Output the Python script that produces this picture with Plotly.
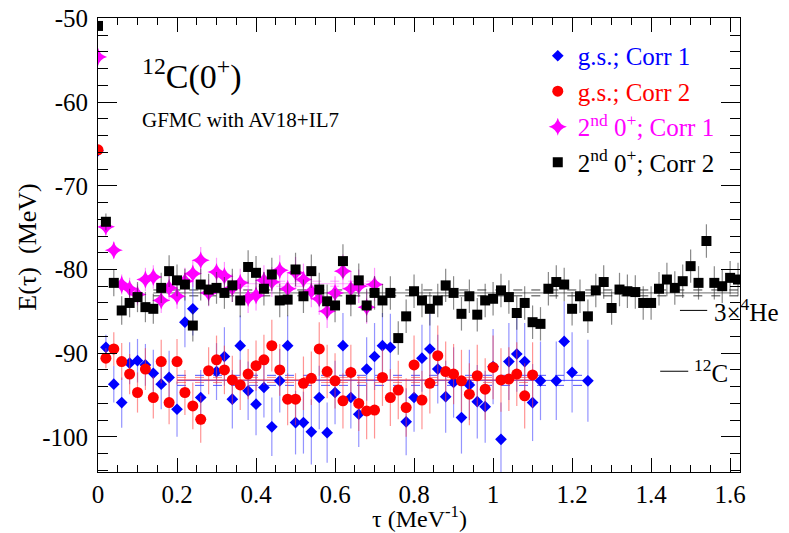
import plotly.graph_objects as go

# ---------------- data ----------------
tau_blue = [0.00, 0.02, 0.04, 0.06, 0.08, 0.10, 0.12, 0.14, 0.16, 0.18, 0.20, 0.22, 0.24, 0.26,
            0.30, 0.32, 0.34, 0.36, 0.38, 0.40, 0.42, 0.44, 0.46, 0.48, 0.50, 0.52, 0.54, 0.56,
            0.58, 0.60, 0.62, 0.64, 0.66, 0.68, 0.70, 0.72, 0.74, 0.78, 0.80, 0.82, 0.84, 0.86,
            0.88, 0.90, 0.92, 0.94, 0.96, 0.98, 1.00, 1.02, 1.04, 1.06, 1.08, 1.10, 1.12, 1.16,
            1.18, 1.20, 1.24]
E_blue = [-65.8, -89.3, -93.7, -95.9, -91.2, -90.9, -91.4, -92.4, -93.7, -92.9, -96.7, -86.3, -84.7, -95.3,
          -92.2, -90.4, -95.5, -89.1, -94.5, -96.1, -94.1, -98.8, -93.3, -89.1, -98.3, -98.3, -99.4, -95.3,
          -99.5, -94.7, -89.1, -95.3, -97.3, -91.9, -90.4, -89.1, -89.3, -98.2, -95.3, -90.6, -89.5, -91.9,
          -95.2, -93.5, -97.7, -93.8, -95.8, -96.4, -91.6, -100.3, -91.0, -90.1, -91.0, -95.9, -93.3, -93.3,
          -88.6, -92.3, -93.3]
err_blue = [0.3, 1.5, 2.2, 3.0, 2.5, 2.6, 2.5, 2.8, 3.0, 3.2, 3.3, 3.0, 3.2, 3.3,
            3.4, 3.5, 3.5, 3.6, 3.5, 3.7, 3.6, 3.5, 3.8, 3.6, 3.8, 3.7, 3.9, 3.8,
            3.6, 3.8, 3.9, 3.7, 3.9, 3.8, 4.0, 3.9, 4.0, 4.0, 4.1, 4.0, 4.2, 4.1,
            4.3, 4.2, 4.3, 4.2, 4.4, 4.3, 4.5, 4.4, 4.6, 4.5, 4.6, 4.6, 4.7, 4.7,
            4.8, 4.8, 4.9]

tau_red = [0.00, 0.02, 0.04, 0.06, 0.08, 0.10, 0.12, 0.14, 0.16, 0.18, 0.20, 0.22, 0.24, 0.26, 0.28,
           0.30, 0.32, 0.34, 0.36, 0.38, 0.40, 0.42, 0.44, 0.46, 0.48, 0.50, 0.52, 0.54, 0.56, 0.58,
           0.60, 0.62, 0.64, 0.66, 0.68, 0.70, 0.72, 0.74, 0.76, 0.78, 0.80, 0.82, 0.84, 0.86, 0.88,
           0.90, 0.92, 0.94, 0.96, 0.98, 1.00, 1.02, 1.04, 1.06, 1.08, 1.10]
E_red = [-65.7, -90.6, -89.5, -91.0, -92.5, -94.7, -91.9, -95.3, -91.0, -95.9, -91.0, -94.7, -96.3, -97.9, -92.1,
         -90.8, -92.0, -93.2, -93.8, -92.5, -91.5, -90.8, -89.1, -92.0, -95.5, -95.5, -93.6, -93.0, -89.5, -92.2,
         -93.3, -95.7, -92.3, -96.0, -96.9, -96.8, -92.9, -95.3, -94.4, -96.5, -91.4, -95.6, -93.6, -90.3, -92.2,
         -92.5, -93.3, -94.9, -92.7, -94.3, -91.7, -93.2, -93.1, -92.5, -95.1, -92.6]
err_red = [0.3, 1.2, 2.0, 2.2, 2.4, 2.4, 2.5, 2.5, 2.6, 2.6, 2.7, 2.7, 2.8, 2.8, 2.8,
           2.9, 2.9, 2.9, 3.0, 3.0, 3.0, 3.0, 3.1, 3.1, 3.1, 3.1, 3.2, 3.2, 3.2, 3.2,
           3.3, 3.3, 3.3, 3.3, 3.4, 3.4, 3.4, 3.4, 3.5, 3.5, 3.5, 3.5, 3.6, 3.6, 3.6,
           3.6, 3.7, 3.7, 3.7, 3.7, 3.8, 3.8, 3.8, 3.8, 3.9, 3.9]

tau_mag = [0.00, 0.02, 0.04, 0.06, 0.08, 0.10, 0.12, 0.14, 0.16, 0.18, 0.20, 0.22, 0.24, 0.26, 0.28,
           0.30, 0.32, 0.34, 0.36, 0.38, 0.40, 0.42, 0.44, 0.46, 0.48, 0.50, 0.52, 0.54, 0.56, 0.58,
           0.60, 0.62, 0.64, 0.66, 0.68, 0.70]
E_mag = [-54.6, -74.9, -77.7, -81.8, -82.3, -83.0, -81.2, -80.9, -83.7, -82.2, -83.2, -81.4, -80.5, -78.9, -82.8,
         -80.3, -80.8, -82.2, -81.6, -83.4, -83.1, -81.3, -81.5, -80.1, -82.3, -80.4, -81.2, -82.6, -83.5, -85.0,
         -82.8, -80.2, -82.3, -82.0, -84.5, -81.8]
err_mag = [0.3, 1.0, 1.0, 1.2, 1.3, 1.3, 1.4, 1.4, 1.5, 1.5, 1.5, 1.6, 1.6, 1.6, 1.6,
           1.7, 1.7, 1.7, 1.7, 1.8, 1.8, 1.8, 1.8, 1.8, 1.9, 1.9, 1.9, 1.9, 1.9, 2.0,
           2.0, 2.0, 2.0, 2.0, 2.0, 2.0]

tau_blk = [0.00, 0.02, 0.04, 0.06, 0.08, 0.10, 0.12, 0.14, 0.16, 0.18, 0.20, 0.22, 0.24, 0.26, 0.28,
           0.30, 0.32, 0.34, 0.36, 0.38, 0.40, 0.42, 0.44, 0.46, 0.48, 0.50, 0.52, 0.54, 0.56, 0.58,
           0.60, 0.62, 0.64, 0.66, 0.68, 0.70, 0.72, 0.74, 0.76, 0.78, 0.80, 0.82, 0.84, 0.86, 0.88,
           0.90, 0.92, 0.94, 0.96, 0.98, 1.00, 1.02, 1.04, 1.06, 1.08, 1.10, 1.12, 1.14, 1.16, 1.18,
           1.20, 1.22, 1.24, 1.26, 1.28, 1.30, 1.32, 1.34, 1.36, 1.38, 1.40, 1.42, 1.44, 1.46, 1.48,
           1.50, 1.52, 1.54, 1.56, 1.58, 1.60, 1.62]
E_blk = [-50.9, -74.3, -81.6, -84.9, -84.0, -83.3, -84.5, -84.7, -82.2, -80.2, -81.3, -81.8, -86.7, -81.8, -82.4,
         -82.2, -82.8, -81.9, -83.7, -79.7, -80.4, -82.3, -80.6, -83.7, -83.6, -80.0, -83.2, -80.2, -82.4, -83.8,
         -84.3, -79.0, -83.6, -81.3, -84.3, -82.8, -83.7, -82.8, -88.2, -85.6, -82.6, -83.7, -84.7, -83.7, -81.9,
         -82.8, -85.3, -83.2, -85.4, -83.7, -83.5, -82.5, -83.3, -85.2, -84.0, -86.3, -86.5, -82.3, -81.5, -81.8,
         -84.7, -83.2, -85.6, -82.5, -81.5, -84.6, -82.4, -82.6, -82.7, -84.0, -84.0, -82.3, -81.2, -82.2, -81.4,
         -79.6, -81.6, -76.6, -81.6, -82.0, -81.0, -81.2]
err_blk = [0.3, 1.0, 1.6, 1.7, 1.7, 1.8, 1.8, 1.8, 1.8, 1.9, 1.9, 1.9, 1.9, 1.9, 1.9,
           1.9, 1.9, 2.0, 2.0, 2.0, 2.0, 2.0, 2.0, 2.0, 2.0, 2.0, 2.0, 2.0, 2.0, 2.0,
           2.0, 2.0, 2.0, 2.0, 2.0, 2.0, 2.0, 2.0, 2.0, 2.0, 2.0, 2.0, 2.0, 2.0, 2.0,
           2.0, 2.0, 2.0, 2.0, 2.0, 2.0, 2.0, 2.0, 2.0, 2.0, 2.0, 2.0, 2.0, 2.0, 2.0,
           2.0, 2.0, 2.0, 2.0, 2.0, 2.0, 2.0, 2.0, 2.0, 2.0, 2.0, 2.0, 2.0, 2.0, 2.0,
           2.0, 2.0, 2.0, 2.0, 2.0, 2.0, 2.0]

# averaged energies (bands): start, end, centre, half-width
band_start = [0.20, 0.20, 0.36, 0.14]
band_end = [1.24, 1.10, 0.70, 1.62]
band_centre = [-93.25, -93.2, -81.7, -82.8]
band_half = [0.6, 0.3, 0.3, 0.35]

# experimental reference energies
E_3He4 = -84.89
E_12C = -92.16

x_tickvals = [0, 0.2, 0.4, 0.6, 0.8, 1.0, 1.2, 1.4, 1.6]
x_ticktext = ["0", "0.2", "0.4", "0.6", "0.8", "1", "1.2", "1.4", "1.6"]
y_tickvals = [-50, -60, -70, -80, -90, -100]
y_ticktext = ["-50", "-60", "-70", "-80", "-90", "-100"]

names = ["g.s.; Corr 1", "g.s.; Corr 2", "2<sup>nd</sup> 0<sup>+</sup>; Corr 1", "2<sup>nd</sup> 0<sup>+</sup>; Corr 2"]
colors = ["#0000ff", "#ff0000", "#ff00ff", "#000000"]
bar_colors = ["rgba(60,60,255,0.55)", "rgba(255,60,60,0.55)", "rgba(255,60,255,0.55)", "rgba(40,40,40,0.55)"]
band_solid = ["rgba(40,40,255,0.8)", "rgba(255,40,40,0.8)", "rgba(255,120,255,0.6)", "rgba(90,90,90,0.9)"]
band_dash = ["rgba(40,40,255,0.8)", "rgba(255,60,60,0.6)", "rgba(255,120,255,0.7)", "rgba(40,40,40,0.9)"]
symbols = ["diamond", "circle", "star-diamond", "square"]
sizes = [9, 11, 13, 10]

FONT = "Liberation Serif, Times New Roman, serif"

fig = go.Figure()

for i in range(4):
    xs = [band_start[i], band_end[i]]
    c, h = band_centre[i], band_half[i]
    fig.add_trace(go.Scatter(x=xs, y=[c, c], mode="lines", showlegend=False, hoverinfo="skip",
                             line=dict(color=band_solid[i], width=1)))
    for s in (-1, 1):
        fig.add_trace(go.Scatter(x=xs, y=[c + s * h, c + s * h], mode="lines", showlegend=False,
                                 hoverinfo="skip", line=dict(color=band_dash[i], width=1, dash="dash")))

series = [(tau_blue, E_blue, err_blue), (tau_red, E_red, err_red),
          (tau_mag, E_mag, err_mag), (tau_blk, E_blk, err_blk)]
for i, (t, e, de) in enumerate(series):
    fig.add_trace(go.Scatter(
        x=t, y=e, mode="markers",
        name='<span style="color:%s">%s</span>' % (colors[i], names[i]),
        legendgroup="g%d" % i,
        marker=dict(symbol=symbols[i], size=sizes[i], color=colors[i], line=dict(width=0)),
        error_y=dict(type="data", array=de, visible=True, width=0, thickness=1.2, color=bar_colors[i]),
    ))

fig.add_shape(type="line", xref="x", yref="y", x0=1.473, x1=1.542, y0=E_3He4, y1=E_3He4,
              line=dict(color="black", width=1))
fig.add_shape(type="line", xref="x", yref="y", x0=1.423, x1=1.494, y0=E_12C, y1=E_12C,
              line=dict(color="black", width=1))
fig.add_annotation(x=1.553, y=E_3He4, xref="x", yref="y", text="3×<sup>4</sup>He", showarrow=False,
                   xanchor="left", yanchor="middle", font=dict(family=FONT, size=25, color="black"))
fig.add_annotation(x=1.503, y=E_12C, xref="x", yref="y", text="<sup>12</sup>C", showarrow=False,
                   xanchor="left", yanchor="middle", font=dict(family=FONT, size=25, color="black"))

fig.add_annotation(x=0.065, y=0.875, xref="paper", yref="paper", text="<sup>12</sup>C(0<sup>+</sup>)",
                   showarrow=False, xanchor="left", yanchor="middle", font=dict(family=FONT, size=34, color="black"))
fig.add_annotation(x=0.065, y=0.776, xref="paper", yref="paper", text="GFMC with AV18+IL7",
                   showarrow=False, xanchor="left", yanchor="middle", font=dict(family=FONT, size=21, color="black"))

fig.add_annotation(x=-0.11, y=0.495, xref="paper", yref="paper", text="E(τ)  (MeV)", textangle=-90,
                   showarrow=False, xanchor="center", yanchor="middle", font=dict(family=FONT, size=26, color="black"))
fig.add_annotation(x=0.5, y=-0.1, xref="paper", yref="paper", text="τ (MeV<sup>-1</sup>)",
                   showarrow=False, xanchor="center", yanchor="middle", font=dict(family=FONT, size=24, color="black"))

axis_common = dict(showgrid=False, zeroline=False, showline=True, linecolor="black", linewidth=1,
                   mirror="ticks", ticks="inside", tickcolor="black", automargin=False,
                   ticklabeloverflow="allow",
                   tickfont=dict(family=FONT, size=25, color="black"))

# the page body has an 8px default margin, so the figure is 8px smaller
fig.update_layout(
    width=781, height=525,
    margin=dict(l=90, r=49, t=10, b=61),
    paper_bgcolor="white", plot_bgcolor="white",
    showlegend=True,
    legend=dict(x=0.685, y=0.967, xanchor="left", yanchor="top", bgcolor="rgba(0,0,0,0)",
                font=dict(family=FONT, size=25, color="black"), tracegroupgap=0, itemwidth=30),
    xaxis=dict(range=[0, 1.625], tickvals=x_tickvals, ticktext=x_ticktext, ticklen=14, tickwidth=1,
               minor=dict(dtick=0.05, tick0=0, ticklen=7, ticks="inside", tickcolor="black"),
               ticklabelstandoff=0,
               **axis_common),
    yaxis=dict(range=[-104.2, -49.95], tickvals=y_tickvals, ticktext=y_ticktext, ticklen=19, tickwidth=1,
               minor=dict(dtick=2, tick0=-50, ticklen=10, ticks="inside", tickcolor="black"),
               ticklabelstandoff=4,
               **axis_common),
)

fig.write_html("out.html")
